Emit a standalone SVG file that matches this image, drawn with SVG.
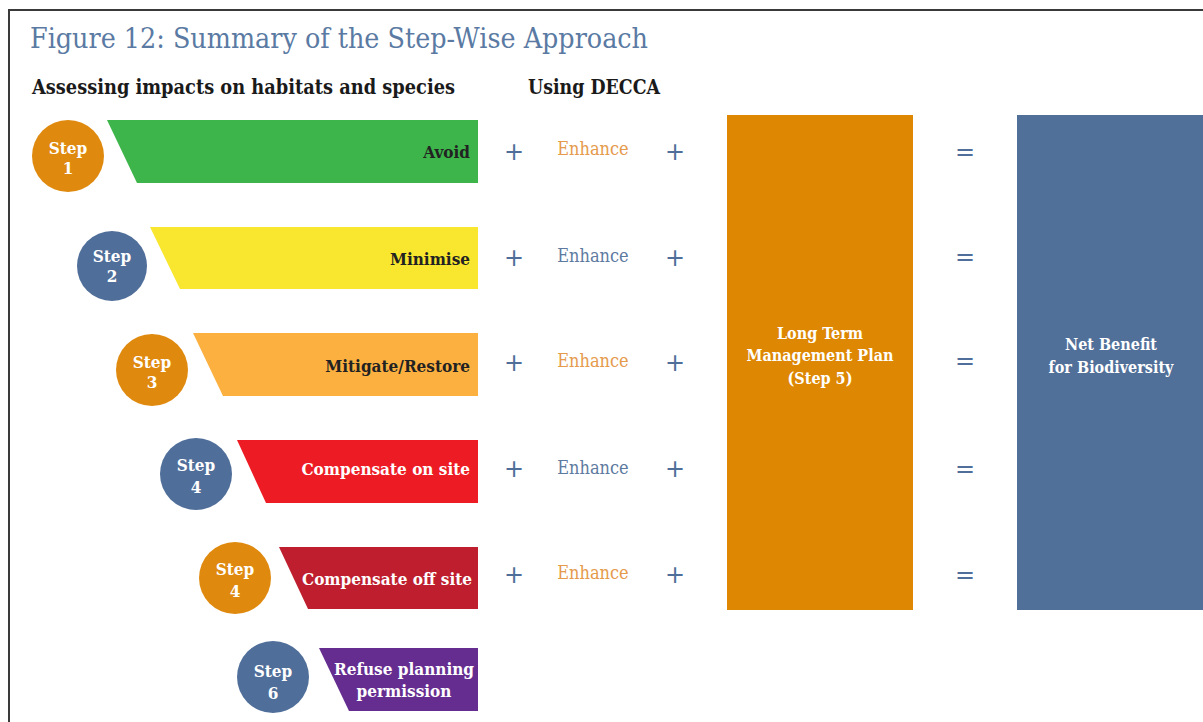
<svg xmlns="http://www.w3.org/2000/svg" width="1203" height="722" viewBox="0 0 1203 722">
<style>
  .frame{stroke:#3a3a3a;stroke-width:2;fill:none}
  .title{font-family:"DejaVu Serif Condensed","DejaVu Serif",serif;font-size:27px;fill:#5a7aa3}
  .head{font-family:"DejaVu Serif Condensed","DejaVu Serif",serif;font-size:20px;fill:#1a1a1a;font-weight:600}
  .step{font-family:"DejaVu Serif Condensed","DejaVu Serif",serif;font-size:17px;fill:#fff;font-weight:bold;text-anchor:middle}
  .lbl{font-family:"DejaVu Serif Condensed","DejaVu Serif",serif;font-size:17px;font-weight:bold;text-anchor:end}
  .dark{fill:#222}
  .light{fill:#fff}
  .op{font-family:"DejaVu Sans",sans-serif;font-size:24px;fill:#4f6f9a;text-anchor:middle}
  .enh{font-family:"DejaVu Serif Condensed","DejaVu Serif",serif;font-size:18px;text-anchor:middle}
  .eo{fill:#e59a4c}
  .eb{fill:#5d7aa0}
  .box{font-family:"DejaVu Serif Condensed","DejaVu Serif",serif;font-size:16px;fill:#fff;font-weight:bold;text-anchor:middle}
  .orange{fill:#df8a0e}
  .blue{fill:#4f6e99}
</style>
<rect width="1203" height="722" fill="#fff"/>
<path class="frame" d="M9,722 V10 H1203"/>
<text class="title" x="30" y="48" textLength="618" lengthAdjust="spacingAndGlyphs">Figure 12: Summary of the Step-Wise Approach</text>
<text class="head" x="32" y="94" textLength="423" lengthAdjust="spacingAndGlyphs">Assessing impacts on habitats and species</text>
<text class="head" x="528" y="94" textLength="132" lengthAdjust="spacingAndGlyphs">Using DECCA</text>

<g id="step1">
  <polygon points="107,120 478,120 478,183 137,183" fill="#3db54a"/>
  <circle class="orange" cx="68" cy="156" r="36"/>
  <text class="step" x="68" y="154">Step</text><text class="step" x="68" y="174">1</text>
  <text class="lbl dark" x="470" y="158">Avoid</text>
</g>
<g id="step2">
  <polygon points="150,227 478,227 478,289 180,289" fill="#f8e72e"/>
  <circle class="blue" cx="112" cy="266" r="35"/>
  <text class="step" x="112" y="262">Step</text><text class="step" x="112" y="282">2</text>
  <text class="lbl dark" x="470" y="265">Minimise</text>
</g>
<g id="step3">
  <polygon points="193,333 478,333 478,396 223,396" fill="#fbb040"/>
  <circle class="orange" cx="152" cy="370" r="36"/>
  <text class="step" x="152" y="368">Step</text><text class="step" x="152" y="388">3</text>
  <text class="lbl dark" x="470" y="372">Mitigate/Restore</text>
</g>
<g id="step4a">
  <polygon points="237,440 478,440 478,503 266,503" fill="#ed1c24"/>
  <circle class="blue" cx="196" cy="474" r="36"/>
  <text class="step" x="196" y="471">Step</text><text class="step" x="196" y="493">4</text>
  <text class="lbl light" x="470" y="475">Compensate on site</text>
</g>
<g id="step4b">
  <polygon points="279,547 478,547 478,609 308,609" fill="#be1e2d"/>
  <circle class="orange" cx="235" cy="578" r="36"/>
  <text class="step" x="235" y="575">Step</text><text class="step" x="235" y="597">4</text>
  <text class="lbl light" x="472" y="585">Compensate off site</text>
</g>
<g id="step6">
  <polygon points="319,648 478,648 478,711 349,711" fill="#662d91"/>
  <circle class="blue" cx="273" cy="677" r="36"/>
  <text class="step" x="273" y="677">Step</text><text class="step" x="273" y="699">6</text>
  <text class="step" x="404" y="675">Refuse planning</text>
  <text class="step" x="404" y="697">permission</text>
</g>

<g id="connectors">
  <text class="op" x="514" y="160">+</text><text class="op" x="675" y="160">+</text><text class="op" x="965" y="160">=</text>
  <text class="op" x="514" y="266">+</text><text class="op" x="675" y="266">+</text><text class="op" x="965" y="265">=</text>
  <text class="op" x="514" y="371">+</text><text class="op" x="675" y="371">+</text><text class="op" x="965" y="369">=</text>
  <text class="op" x="514" y="477">+</text><text class="op" x="675" y="477">+</text><text class="op" x="965" y="477">=</text>
  <text class="op" x="514" y="583">+</text><text class="op" x="675" y="583">+</text><text class="op" x="965" y="583">=</text>
</g>

<g id="enhance">
  <text class="enh eo" x="593" y="155">Enhance</text>
  <text class="enh eb" x="593" y="262">Enhance</text>
  <text class="enh eo" x="593" y="367">Enhance</text>
  <text class="enh eb" x="593" y="474">Enhance</text>
  <text class="enh eo" x="593" y="579">Enhance</text>
</g>

<g id="ltmp">
  <rect x="727" y="115" width="186" height="495" fill="#dd8703"/>
  <text class="box" x="820" y="339">Long Term</text>
  <text class="box" x="820" y="361">Management Plan</text>
  <text class="box" x="820" y="384">(Step 5)</text>
</g>
<g id="netbenefit">
  <rect x="1017" y="115" width="186" height="495" fill="#517099"/>
  <text class="box" x="1111" y="350">Net Benefit</text>
  <text class="box" x="1111" y="373">for Biodiversity</text>
</g>
</svg>
